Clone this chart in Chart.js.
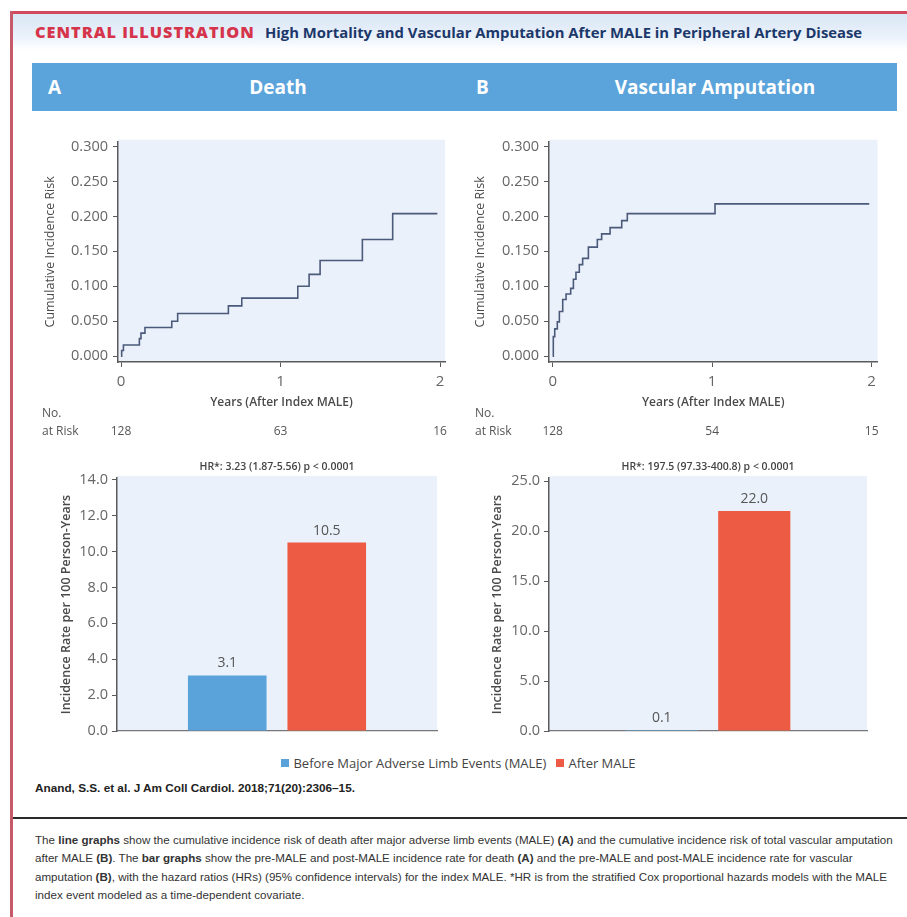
<!DOCTYPE html>
<html>
<head>
<meta charset="utf-8">
<script src="https://cdn.jsdelivr.net/npm/chart.js@4/dist/chart.umd.min.js"></script>
<style>
  html, body { margin: 0; padding: 0; background: #fff; }
  #page { position: relative; width: 907px; height: 917px; overflow: hidden; background: #fff; font-family: "Open Sans", sans-serif; }
  .abs { position: absolute; }
  .fit { white-space: nowrap; display: inline-block; }
  #frameTop { left: 10px; top: 11px; width: 897px; height: 3px; background: #d2485c; }
  #frameLeft { left: 10px; top: 11px; width: 3px; height: 906px; background: #c65a6b; }
  #band { left: 13px; top: 14px; width: 894px; height: 36px; background: linear-gradient(#d9e6f5, #ebf2fb 65%, #fff); }
  #kicker { left: 35px; top: 21px; font-weight: 800; font-size: 14px; color: #d5344b; letter-spacing: 1px; }
  #headline { left: 265px; top: 22px; font-weight: 700; font-size: 13px; color: #1c386a; }
  #header { left: 32px; top: 63px; width: 865px; height: 48px; background: #5ba4db; }
  .hdr { position: absolute; top: 0; line-height: 48px; color: #fff; font-weight: 700; font-size: 19px; }
  canvas { position: absolute; }
  #legend { left: 0; top: 754px; width: 907px; text-align: center; font-size: 13px; color: #444; }
  .sw { display: inline-block; width: 8px; height: 8px; margin: 0 4px 0 10px; vertical-align: 1px; }
  #cite { left: 35px; top: 781px; font-family: "Liberation Sans Narrow", sans-serif; font-weight: 700; font-size: 12px; color: #222; }
  #rule { left: 13px; top: 817px; width: 894px; height: 2px; background: #2a2a2a; }
  #caption { left: 35px; top: 831px; font-family: "Liberation Sans Narrow", sans-serif; font-size: 11px; color: #333; line-height: 18.3px; }
  #caption div { white-space: nowrap; }
</style>
</head>
<body>
<div id="page">
  <div id="band" class="abs"></div>
  <div id="frameTop" class="abs"></div>
  <div id="frameLeft" class="abs"></div>
  <div id="kicker" class="abs fit">CENTRAL ILLUSTRATION</div>
  <div id="headline" class="abs fit">High Mortality and Vascular Amputation After MALE in Peripheral Artery Disease</div>

  <div id="header" class="abs">
    <div class="hdr" style="left:16px;">A</div>
    <div class="hdr" id="hdrA" style="left:216px;">Death</div>
    <div class="hdr" style="left:444px;">B</div>
    <div class="hdr" id="hdrB" style="left:580px;">Vascular Amputation</div>
  </div>

  <canvas id="kmDeath" width="412" height="312" style="left:40px; top:128px;"></canvas>
  <canvas id="kmAmp" width="412" height="312" style="left:470px; top:128px;"></canvas>
  <canvas id="rateDeath" width="412" height="290" style="left:40px; top:455px;"></canvas>
  <canvas id="rateAmp" width="412" height="290" style="left:470px; top:455px;"></canvas>

  <div id="legend" class="abs"></div>
  <div id="cite" class="abs fit">Anand, S.S. et al. J Am Coll Cardiol. 2018;71(20):2306–15.</div>
  <div id="rule" class="abs"></div>
  <div id="caption" class="abs">
    <div id="capLine1" class="fit">The <b>line graphs</b> show the cumulative incidence risk of death after major adverse limb events (MALE) <b>(A)</b> and the cumulative incidence risk of total vascular amputation</div>
    <div>after MALE <b>(B)</b>. The <b>bar graphs</b> show the pre-MALE and post-MALE incidence rate for death <b>(A)</b> and the pre-MALE and post-MALE incidence rate for vascular</div>
    <div>amputation <b>(B)</b>, with the hazard ratios (HRs) (95% confidence intervals) for the index MALE. *HR is from the stratified Cox proportional hazards models with the MALE</div>
    <div>index event modeled as a time-dependent covariate.</div>
  </div>
</div>

<script>
// ---- Cumulative incidence after the index MALE (years, risk reached at that time) ----
const deathYears = [0, 0.004, 0.015, 0.115, 0.125, 0.150, 0.318, 0.355, 0.673, 0.757, 1.108, 1.179, 1.248, 1.513, 1.703, 1.983];
const deathRisk  = [0, 0.008, 0.016, 0.025, 0.033, 0.041, 0.050, 0.061, 0.072, 0.083, 0.100, 0.117, 0.137, 0.167, 0.204, 0.204];

const ampYears = [0, 0.004, 0.013, 0.029, 0.042, 0.063, 0.084, 0.113, 0.130, 0.146, 0.167, 0.188, 0.224, 0.280, 0.307, 0.360, 0.433, 0.468, 1.018, 1.985];
const ampRisk  = [0, 0.028, 0.039, 0.049, 0.064, 0.081, 0.089, 0.097, 0.110, 0.120, 0.131, 0.140, 0.156, 0.167, 0.175, 0.184, 0.194, 0.204, 0.218, 0.218];

// ---- Number at risk ----
const riskYears = [0, 1, 2];
const deathAtRisk = [128, 63, 16];
const ampAtRisk = [128, 54, 15];

// ---- Axis ticks ----
const riskTicks = [0, 0.05, 0.10, 0.15, 0.20, 0.25, 0.30];
const deathRateTicks = [0, 2, 4, 6, 8, 10, 12, 14];
const ampRateTicks = [0, 5, 10, 15, 20, 25];

// ---- Incidence rate per 100 person-years: [before MALE, after MALE] ----
const seriesLabels = ['Before Major Adverse Limb Events (MALE)', 'After MALE'];
const deathRates = [3.1, 10.5];
const ampRates = [0.1, 22.0];
const deathHR = 'HR*: 3.23 (1.87-5.56) p < 0.0001';
const ampHR = 'HR*: 197.5 (97.33-400.8) p < 0.0001';

// ---- Styles ----
const seriesColors = ['#5aa3da', '#ee5b45'];
const PLOT_BG = '#eaf1fa';
const AXIS = '#5a5a5a';
const CURVE = '#4b5a7b';
const TICK_COLOR = '#666';
const TITLE_COLOR = '#4a4a4a';
const FONT = '"Open Sans", sans-serif';

Chart.defaults.font.family = FONT;
Chart.defaults.color = TICK_COLOR;

const plotBg = {
  id: 'plotBg',
  beforeDraw(chart) {
    const { ctx, chartArea: a } = chart;
    ctx.save();
    ctx.fillStyle = PLOT_BG;
    ctx.fillRect(a.left, a.top - 2, a.right - a.left, a.bottom - a.top + 2);
    ctx.restore();
  }
};

// Number-at-risk table under the x axis
const atRiskRow = {
  id: 'atRiskRow',
  afterDraw(chart, args, opts) {
    const { ctx } = chart;
    const xs = chart.scales.x;
    ctx.save();
    ctx.font = '12px ' + FONT;
    ctx.fillStyle = '#555';
    ctx.textBaseline = 'middle';
    ctx.textAlign = 'left';
    ctx.fillText('No.', opts.labelX, opts.rowY - 18);
    ctx.fillText('at Risk', opts.labelX, opts.rowY);
    ctx.textAlign = 'center';
    opts.years.forEach((t, i) => ctx.fillText(String(opts.counts[i]), xs.getPixelForValue(t), opts.rowY));
    ctx.restore();
  }
};

// Value above each bar and hazard-ratio line above the plot
const barNotes = {
  id: 'barNotes',
  afterDatasetsDraw(chart, args, opts) {
    const { ctx, chartArea: a } = chart;
    ctx.save();
    ctx.textAlign = 'center';
    ctx.textBaseline = 'bottom';
    ctx.font = '14px ' + FONT;
    ctx.fillStyle = '#555';
    chart.data.datasets.forEach((ds, i) => {
      chart.getDatasetMeta(i).data.forEach((bar, j) => {
        ctx.fillText(ds.data[j].toFixed(1), bar.x, bar.y - 5);
      });
    });
    ctx.font = '600 10.5px ' + FONT;
    ctx.fillStyle = '#444';
    ctx.textBaseline = 'middle';
    ctx.fillText(opts.hr, (a.left + a.right) / 2, a.top - 11);
    ctx.restore();
  }
};

function kmChart(id, years, risk, counts, xMin, xMax, yWidth, padRight, labelX) {
  return new Chart(document.getElementById(id), {
    type: 'line',
    data: {
      datasets: [{
        data: years.map((t, i) => ({ x: t, y: risk[i] })),
        // hold each level until the next event, then jump
        stepped: 'before',
        borderColor: CURVE,
        borderWidth: 1.6,
        pointRadius: 0,
        fill: false
      }]
    },
    options: {
      responsive: false,
      animation: false,
      layout: { padding: { top: 8, right: padRight, bottom: 28, left: 0 } },
      plugins: {
        legend: { display: false },
        tooltip: { enabled: false },
        atRiskRow: { years: riskYears, counts: counts, labelX: labelX, rowY: 304 }
      },
      scales: {
        x: {
          type: 'linear', min: xMin, max: xMax,
          afterBuildTicks: s => { s.ticks = riskYears.map(v => ({ value: v })); },
          afterFit: s => { s.height = 50; },
          grid: { drawOnChartArea: false, color: AXIS, tickLength: 5 },
          border: { color: AXIS, width: 1.5 },
          ticks: { font: { size: 15 }, color: TICK_COLOR, padding: 6, callback: v => String(v) },
          title: { display: true, text: 'Years (After Index MALE)', font: { size: 12, weight: '600' }, color: TITLE_COLOR, padding: { top: 0, bottom: 2 } }
        },
        y: {
          min: -0.0084, max: 0.307,
          afterBuildTicks: s => { s.ticks = riskTicks.map(v => ({ value: v })); },
          afterFit: s => { s.width = yWidth; },
          grid: { drawOnChartArea: false, color: AXIS, tickLength: 5 },
          border: { color: AXIS, width: 1.5 },
          ticks: { font: { size: 14.5 }, color: TICK_COLOR, padding: 5, callback: v => Number(v).toFixed(3) },
          title: { display: true, text: 'Cumulative Incidence Risk', font: { size: 12.5, weight: '500' }, color: TITLE_COLOR, padding: { top: 3, bottom: 0 } }
        }
      }
    },
    plugins: [plotBg, atRiskRow]
  });
}

function rateChart(id, rates, yMax, ticks, hr, yWidth, titlePad, catPct, barPct) {
  return new Chart(document.getElementById(id), {
    type: 'bar',
    data: {
      labels: [''],
      datasets: seriesLabels.map((label, i) => ({
        label: label,
        data: [rates[i]],
        backgroundColor: seriesColors[i],
        categoryPercentage: catPct,
        barPercentage: barPct
      }))
    },
    options: {
      responsive: false,
      animation: false,
      layout: { padding: { top: 23, right: 15, bottom: 14, left: 0 } },
      plugins: {
        legend: { display: false },
        tooltip: { enabled: false },
        barNotes: { hr: hr }
      },
      scales: {
        x: {
          grid: { display: false },
          ticks: { display: false },
          border: { display: true, color: '#777', width: 1.2 },
          afterFit: s => { s.height = 0; }
        },
        y: {
          min: 0, max: yMax,
          afterBuildTicks: s => { s.ticks = ticks.map(v => ({ value: v })); },
          afterFit: s => { s.width = yWidth; },
          grid: { drawOnChartArea: false, color: AXIS, tickLength: 5 },
          border: { color: AXIS, width: 1.5 },
          ticks: { font: { size: 14.5 }, color: TICK_COLOR, padding: 4, callback: v => Number(v).toFixed(1) },
          title: { display: true, text: 'Incidence Rate per 100 Person-Years', font: { size: 12.5, weight: '600' }, color: TITLE_COLOR, padding: { top: titlePad, bottom: 0 } }
        }
      }
    },
    plugins: [plotBg, barNotes]
  });
}

// Shrink or grow a single-line text element so it spans the given width
function fitWidth(id, target) {
  const el = document.getElementById(id);
  const fs = parseFloat(getComputedStyle(el).fontSize);
  const w = el.getBoundingClientRect().width;
  el.style.fontSize = (fs * target / w).toFixed(2) + 'px';
}

function centerAt(id, cx) {
  const el = document.getElementById(id);
  el.style.left = (cx - el.getBoundingClientRect().width / 2) + 'px';
}

// Shared legend for the two bar charts
document.getElementById('legend').innerHTML = seriesLabels.map((l, i) =>
  '<span class="sw" style="background:' + seriesColors[i] + '"></span>' + l).join('');

fitWidth('kicker', 223);
fitWidth('headline', 597);
fitWidth('cite', 320);
fitWidth('capLine1', 858);
document.getElementById('caption').style.fontSize = document.getElementById('capLine1').style.fontSize;
centerAt('hdrA', 246);
centerAt('hdrB', 683);

kmChart('kmDeath', deathYears, deathRisk, deathAtRisk, -0.019, 2.031, 78, 7, 2);
kmChart('kmAmp', ampYears, ampRisk, ampAtRisk, -0.023, 2.037, 79, 4, 5);
rateChart('rateDeath', deathRates, 14.1, deathRateTicks, deathHR, 77, 19, 0.622, 0.79);
rateChart('rateAmp', ampRates, 25.3, ampRateTicks, ampHR, 79, 20, 0.582, 0.78);
</script>
</body>
</html>
